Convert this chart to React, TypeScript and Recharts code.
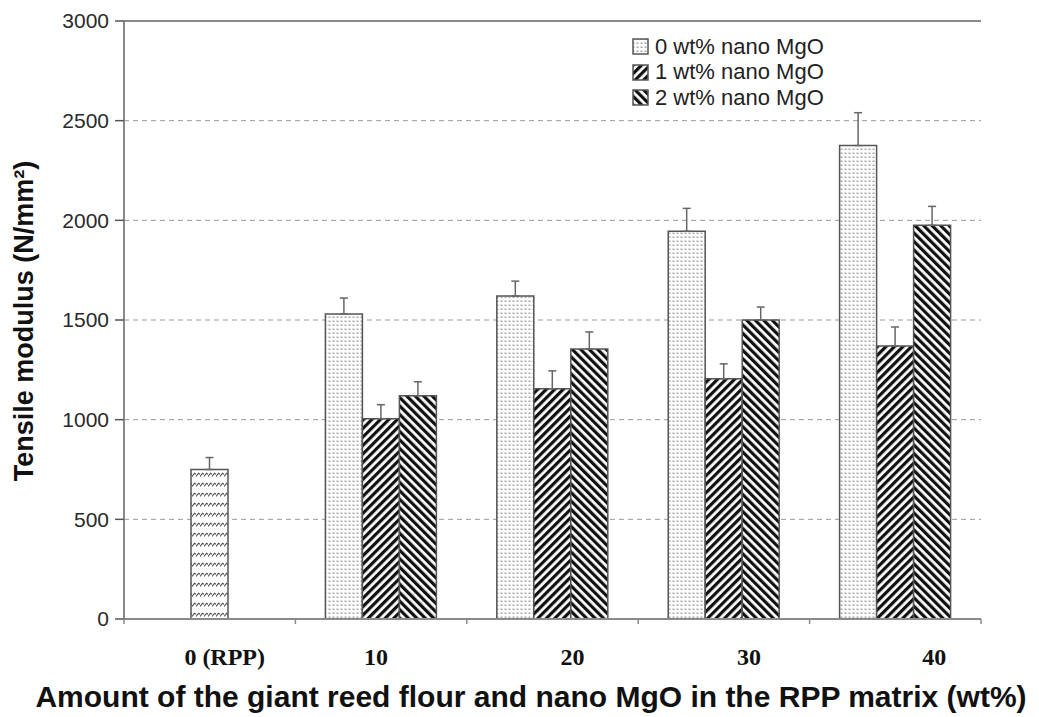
import React from 'react';
import {
  BarChart,
  Bar,
  XAxis,
  YAxis,
  CartesianGrid,
  ErrorBar,
  Cell,
  ReferenceLine,
  Label
} from 'recharts';

// chart values
const categories = ['0 (RPP)', '10', '20', '30', '40'];
const mgo0 = [null, 1530, 1620, 1945, 2375];
const mgo0Err = [null, 80, 75, 115, 165];
const mgo1 = [null, 1005, 1155, 1205, 1370];
const mgo1Err = [null, 70, 90, 75, 95];
const mgo2 = [null, 1120, 1355, 1500, 1975];
const mgo2Err = [null, 70, 85, 65, 95];
const rppValue = 750;
const rppErr = 60;
const yTicks = [0, 500, 1000, 1500, 2000, 2500, 3000];
const gridValues = [500, 1000, 1500, 2000, 2500];

const seriesNames = ['0 wt% nano MgO', '1 wt% nano MgO', '2 wt% nano MgO'];

// the original's category labels sit a bit off their group centres
const labelShift = [15, -5, 20, 25, 39];

const sans = '"Liberation Sans", Arial, sans-serif';
const serif = '"Liberation Serif", "Times New Roman", serif';
const frame = '#8a8a8a';

const err = (e: number | null) => (e == null ? undefined : [0, e]);

// RPP bar sits in the middle slot so it ends up centred in its group
const data = categories.map((name, i) => ({
  name,
  m0: mgo0[i],
  m0e: err(mgo0Err[i]),
  m1: i === 0 ? rppValue : mgo1[i],
  m1e: err(i === 0 ? rppErr : mgo1Err[i]),
  m2: mgo2[i],
  m2e: err(mgo2Err[i])
}));

const Patterns = () => (
  <svg width={0} height={0} style={{ position: 'absolute' }}>
    <defs>
      <pattern id="dots" width={4} height={4} patternUnits="userSpaceOnUse">
        <rect width={4} height={4} fill="#fff" />
        <rect x={0.5} y={0.5} width={2} height={1.5} fill="#a8a8a8" />
      </pattern>
      <pattern id="fwd" width={6} height={6} patternUnits="userSpaceOnUse" patternTransform="rotate(45)">
        <rect width={6} height={6} fill="#fff" />
        <rect width={3.2} height={6} fill="#111" />
      </pattern>
      <pattern id="back" width={6} height={6} patternUnits="userSpaceOnUse" patternTransform="rotate(-45)">
        <rect width={6} height={6} fill="#fff" />
        <rect width={3.2} height={6} fill="#111" />
      </pattern>
      <pattern id="wave" width={4} height={10} patternUnits="userSpaceOnUse">
        <rect width={4} height={10} fill="#fff" />
        <path d="M0,6.5 L2.6,3.2 L4,4.2" fill="none" stroke="#555" strokeWidth={1.2} />
      </pattern>
    </defs>
  </svg>
);

const fills = ['url(#dots)', 'url(#fwd)', 'url(#back)'];

const CatTick = (props: any) => {
  const { x, y, payload, index } = props;
  const half = payload && payload.offset ? payload.offset : 85.6;
  return (
    <g>
      <line x1={x - half} x2={x - half} y1={y} y2={y + 5} stroke={frame} strokeWidth={1.5} />
      {index === categories.length - 1 && (
        <line x1={x + half} x2={x + half} y1={y} y2={y + 5} stroke={frame} strokeWidth={1.5} />
      )}
      <text
        x={x + (labelShift[index] || 0)}
        y={y + 46}
        textAnchor="middle"
        fontFamily={serif}
        fontWeight="bold"
        fontSize={24}
        fill="#111"
      >
        {payload.value}
      </text>
    </g>
  );
};

const LegendBox = () => (
  <div style={{ position: 'absolute', left: 632, top: 34, fontFamily: sans, fontSize: 22, color: '#222' }}>
    {seriesNames.map((n, i) => (
      <div key={n} style={{ display: 'flex', alignItems: 'center', height: 25.5 }}>
        <svg width={17} height={17} style={{ marginRight: 6 }}>
          <rect x={1} y={1} width={15} height={15} fill={fills[i]} stroke="#555" strokeWidth={1.5} />
        </svg>
        <span>{n}</span>
      </div>
    ))}
  </div>
);

export default function App() {
  return (
    <div style={{ position: 'absolute', left: 0, top: 0, width: 1039, height: 717, background: '#fff' }}>
      <Patterns />
      <BarChart
        width={1039}
        height={717}
        data={data}
        margin={{ top: 21, right: 58, left: 0, bottom: 0 }}
        barSize={37}
        barGap={0}
      >
        <CartesianGrid vertical={false} horizontalValues={gridValues} stroke="#9a9a9a" strokeDasharray="5 4" />
        <XAxis
          dataKey="name"
          height={98}
          axisLine={{ stroke: frame, strokeWidth: 2 }}
          tickLine={false}
          tickSize={0}
          tickMargin={0}
          tick={<CatTick />}
          interval={0}
        >
          <Label
            content={() => (
              <text x={531} y={707} textAnchor="middle" fontFamily={sans} fontWeight="bold" fontSize={30} fill="#111">
                Amount of the giant reed flour and nano MgO in the RPP matrix (wt%)
              </text>
            )}
          />
        </XAxis>
        <YAxis
          width={124}
          domain={[0, 3000]}
          ticks={yTicks}
          interval={0}
          axisLine={{ stroke: frame, strokeWidth: 2 }}
          tickLine={{ stroke: '#555', strokeWidth: 1.5 }}
          tickSize={9}
          tickMargin={6}
          tick={{ fontFamily: sans, fontSize: 21, fill: '#2a2a2a' }}
        >
          <Label
            content={(p: any) => {
              const cy = p.viewBox ? p.viewBox.y + p.viewBox.height / 2 + 1 : 321;
              return (
                <text
                  x={24}
                  y={cy}
                  transform={`rotate(-90, 24, ${cy})`}
                  textAnchor="middle"
                  dominantBaseline="central"
                  fontFamily={sans}
                  fontWeight="bold"
                  fontSize={27}
                  fill="#111"
                >
                  Tensile modulus (N/mm²)
                </text>
              );
            }}
          />
        </YAxis>
        <YAxis
          yAxisId="right"
          orientation="right"
          width={0}
          domain={[0, 3000]}
          tick={false}
          tickLine={false}
          axisLine={{ stroke: frame, strokeWidth: 2 }}
        />
        <ReferenceLine y={3000} stroke={frame} strokeWidth={2} />
        <Bar dataKey="m0" name={seriesNames[0]} fill="url(#dots)" stroke="#555" strokeWidth={1.5} isAnimationActive={false}>
          <ErrorBar dataKey="m0e" width={4} stroke="#666" strokeWidth={1.5} />
        </Bar>
        <Bar dataKey="m1" name={seriesNames[1]} fill="url(#fwd)" stroke="#555" strokeWidth={1.5} isAnimationActive={false}>
          {data.map((d, i) => (
            <Cell key={d.name} fill={i === 0 ? 'url(#wave)' : 'url(#fwd)'} />
          ))}
          <ErrorBar dataKey="m1e" width={4} stroke="#666" strokeWidth={1.5} />
        </Bar>
        <Bar dataKey="m2" name={seriesNames[2]} fill="url(#back)" stroke="#555" strokeWidth={1.5} isAnimationActive={false}>
          <ErrorBar dataKey="m2e" width={4} stroke="#666" strokeWidth={1.5} />
        </Bar>
      </BarChart>
      <LegendBox />
    </div>
  );
}
